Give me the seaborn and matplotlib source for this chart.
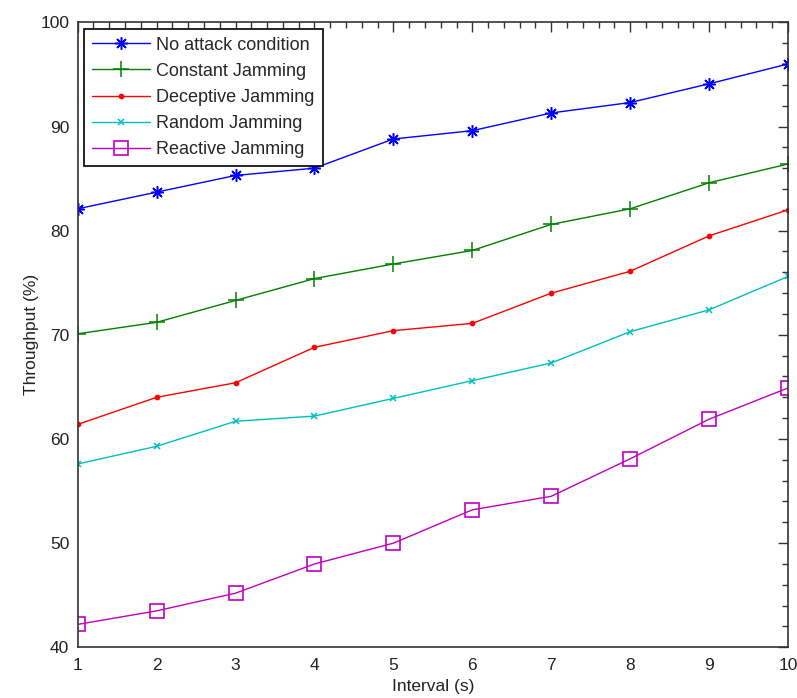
import numpy as np
import pandas as pd
import matplotlib
matplotlib.use("Agg")
import matplotlib.pyplot as plt
import seaborn as sns
from matplotlib.ticker import MultipleLocator

# data
interval = [1, 2, 3, 4, 5, 6, 7, 8, 9, 10]
no_attack = [82.1, 83.7, 85.3, 86.0, 88.8, 89.6, 91.3, 92.3, 94.1, 96.0]
constant = [70.1, 71.2, 73.3, 75.4, 76.8, 78.1, 80.6, 82.1, 84.6, 86.4]
deceptive = [61.4, 64.0, 65.4, 68.8, 70.4, 71.1, 74.0, 76.1, 79.5, 82.0]
random_j = [57.6, 59.3, 61.7, 62.2, 63.9, 65.6, 67.3, 70.3, 72.4, 75.6]
reactive = [42.2, 43.5, 45.2, 48.0, 50.0, 53.2, 54.5, 58.1, 61.9, 64.9]

labels = ["No attack condition", "Constant Jamming", "Deceptive Jamming",
          "Random Jamming", "Reactive Jamming"]

sns.set_theme(style="white")
plt.rcParams['font.family'] = ['Liberation Sans', 'DejaVu Sans']

fig = plt.figure(figsize=(7.97, 6.98), dpi=100)
ax = fig.add_axes([0.0975, 0.0726, 0.8912, 0.8954])

series = [no_attack, constant, deceptive, random_j, reactive]
colors = ["#0000ff", "#008000", "#ff0000", "#00bfbf", "#bf00bf"]
markers = [(8, 2, 0), "+", ".", "x", "s"]
msizes = [9, 11, 6, 5, 10]

for vals, lab, c, m, ms in zip(series, labels, colors, markers, msizes):
    df = pd.DataFrame({"Interval": interval, "Throughput": vals})
    if m == "s":
        sns.lineplot(data=df, x="Interval", y="Throughput", ax=ax, color=c, label=lab,
                     linewidth=1, marker=m, markersize=ms, markerfacecolor="none",
                     markeredgecolor=c, markeredgewidth=1.2)
    else:
        sns.lineplot(data=df, x="Interval", y="Throughput", ax=ax, color=c, label=lab,
                     linewidth=1, marker=m, markersize=ms, markeredgecolor=c,
                     markeredgewidth=1.1)

ax.set_xlim(1, 10)
ax.set_ylim(40, 100)
ax.xaxis.set_major_locator(MultipleLocator(1))
ax.xaxis.set_minor_locator(MultipleLocator(0.2))
ax.yaxis.set_major_locator(MultipleLocator(10))
ax.yaxis.set_minor_locator(MultipleLocator(2))
ax.tick_params(which="both", direction="in", top=True, right=True, colors="#333333",
               labelsize=12.5, labelcolor="#222222")
ax.tick_params(which="major", length=7, width=1)
ax.tick_params(which="minor", length=4, width=1)
ax.tick_params(axis="x", which="major", pad=8)
ax.tick_params(axis="y", which="major", pad=6)
for s in ax.spines.values():
    s.set_color("#333333")
    s.set_linewidth(1.2)

ax.set_xlabel("Interval (s)", fontsize=12.5, color="#222222", labelpad=4)
ax.set_ylabel("Throughput (%)", fontsize=12.5, color="#222222", labelpad=1)

leg = ax.legend(loc="upper left", fontsize=13, frameon=True, fancybox=False,
                handlelength=3.2, labelspacing=0.5, borderaxespad=0.35,
                borderpad=0.45, handletextpad=0.35)
leg.get_frame().set_edgecolor("black")
leg.get_frame().set_linewidth(1.2)
leg.get_frame().set_alpha(1)

fig.savefig("out.png", dpi=100)
